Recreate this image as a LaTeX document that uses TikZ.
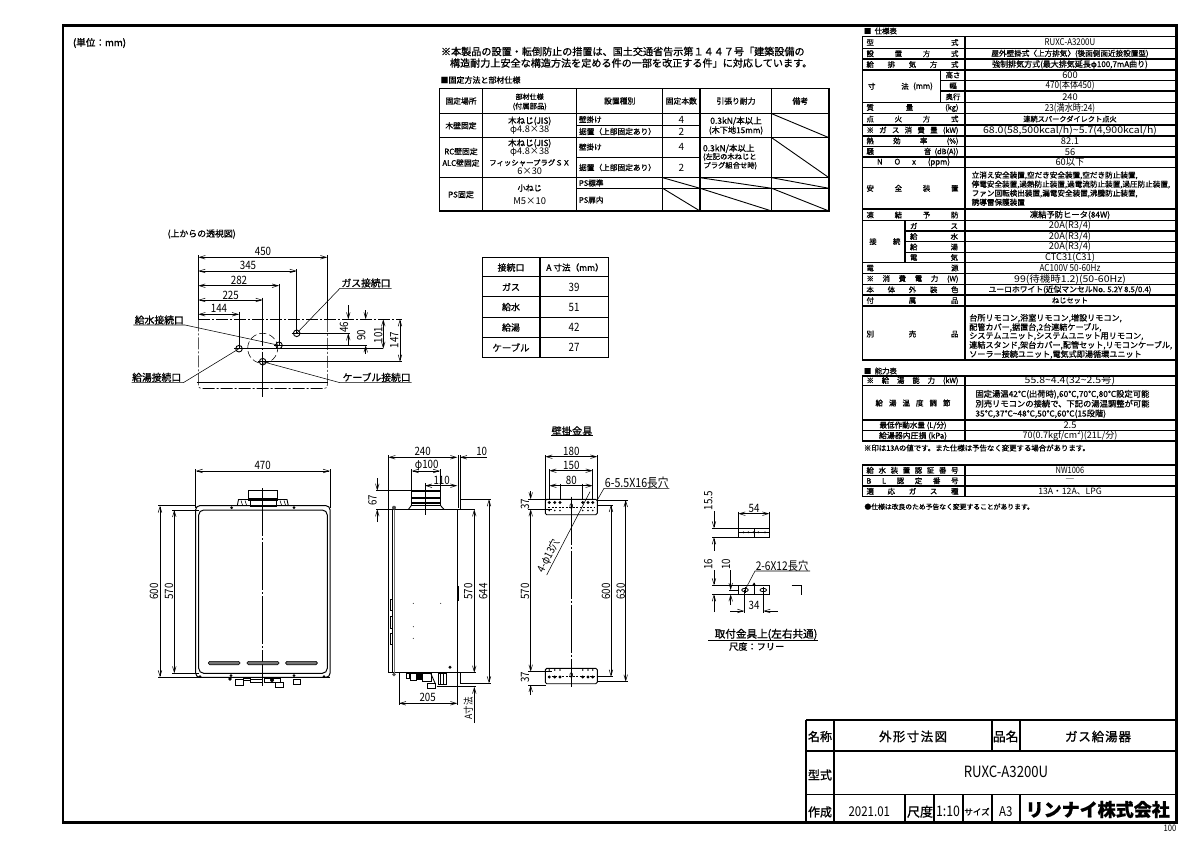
\documentclass[tikz,border=0pt]{standalone}
\usepackage{fontspec}
\usepackage{graphicx}
\usetikzlibrary{arrows.meta,calc}
\setmainfont[FakeBold=1.0]{Noto Sans CJK JP}
\newfontfamily\nar[FakeStretch=0.85]{Noto Sans CJK JP}
\newfontfamily\wid[FakeStretch=1.13]{Noto Sans CJK JP}
\newfontfamily\plain{Noto Sans CJK JP}
\newcommand{\fs}[1]{\fontsize{#1}{#1}\selectfont}
\newcounter{tn}
\newcommand{\lab}[4][]{\stepcounter{tn}\node[txt,#1] (t\arabic{tn}) at (#2,#3) {#4};}
% spec table helpers
\newcommand{\Jl}[2]{\lab{912.5}{#1}{\fs{7.4}\hbox to 92pt{#2}}}
\newcommand{\Jm}[2]{\lab{934}{#1}{\fs{7.4}\hbox to 48pt{#2}}}
\newcommand{\Va}[2]{\lab{1070}{#1}{\plain\fs{9.3}#2}}
\newcommand{\Vn}[2]{\lab{1070}{#1}{\nar\fs{9.6}#2}}
\newcommand{\Vw}[2]{\lab{1070}{#1}{\wid\fs{9.3}#2}}
\newcommand{\Vs}[3]{\lab{1070}{#1}{\plain\fs{#2}#3}}
\newcommand{\Vj}[3]{\lab{1070}{#1}{\fs{#2}#3}}
\newcommand{\Dt}[3]{\lab{#1}{#2}{\nar\fs{11.5}#3}}
\newcommand{\Dr}[3]{\lab[rotate=90]{#1}{#2}{\nar\fs{11.5}#3}}
\newcommand{\Tt}[3]{\lab{#1}{#2}{\fs{7.8}#3}}
\tikzset{
  txt/.style={inner sep=0pt,outer sep=0pt,anchor=center,text=black},
  frame/.style={line width=2.4pt,draw=black},
  tab/.style={line width=1.3pt,draw=black},
  tabthin/.style={line width=0.9pt,draw=black},
  dim/.style={line width=0.55pt,draw=black,{Straight Barb[length=6pt,width=3.6pt]}-{Straight Barb[length=6pt,width=3.6pt]}},
  dimin/.style={line width=0.55pt,draw=black,-{Straight Barb[length=6pt,width=3.6pt]}},
  ext/.style={line width=0.55pt,draw=black},
  body/.style={line width=0.9pt,draw=black},
  center/.style={line width=0.55pt,draw=black,dash pattern=on 48pt off 2pt on 2pt off 2pt},
  phantomline/.style={line width=0.6pt,draw=black,dash pattern=on 12pt off 2pt on 2pt off 2pt},
}
\begin{document}
\begin{tikzpicture}[x=1pt,y=-1pt]
\useasboundingbox (0,0) rectangle (1200,849);
\fill[white] (0,0) rectangle (1200,849);
% outer frame
\draw[frame] (63,25.5) rectangle (1176.5,822.3);
\lab{99.5}{43}{\fs{9.6}(単位：mm)}
\lab{1170}{828}{\nar\fs{9}100}

% ---------- notes and fixing table
\lab[anchor=west]{441}{51.5}{\fs{10.1}※本製品の設置・転倒防止の措置は、国土交通省告示第１４４７号「建築設備の}
\lab[anchor=west]{450}{63}{\fs{10.1}構造耐力上安全な構造方法を定める件の一部を改正する件」に対応しています。}
\lab[anchor=west]{440.5}{80}{\fs{8}■固定方法と部材仕様}
\draw[tab] (439.3,88.3) rectangle (829,211);
\foreach \x in {482.7,576.7,662.7,700,771.7} \draw[tab] (\x,88.3) -- (\x,211);
\foreach \y in {113.7,137.7,177.7} \draw[tab] (439.3,\y) -- (829,\y);
\draw[tabthin] (576.7,125) -- (700,125);
\draw[tabthin] (576.7,157) -- (700,157);
\draw[tabthin] (576.7,188.3) -- (829,188.3);
\foreach \a/\b/\c/\d in {771.7/113.7/829/137.7,771.7/137.7/829/177.7,662.7/177.7/700/188.3,700/177.7/771.7/188.3,771.7/177.7/829/188.3,662.7/188.3/700/211,700/188.3/771.7/211,771.7/188.3/829/211}
  \draw[tabthin] (\a,\b) -- (\c,\d);
\Tt{461}{101}{固定場所}
\lab{529.7}{96.7}{\fs{7}部材仕様}
\lab{529.7}{106.5}{\fs{7.3}(付属部品)}
\Tt{619.7}{101}{設置種別}
\Tt{681.3}{101}{固定本数}
\Tt{736}{101}{引張り耐力}
\Tt{800.3}{101}{備考}
\Tt{461}{125.7}{木壁固定}
\lab{529.7}{121}{\fs{8.5}木ねじ(JIS)}
\lab{529.7}{130.5}{\plain\fs{9.2}φ4.8×38}
\lab[anchor=west]{579}{119.5}{\fs{7.6}壁掛け}
\lab[anchor=west]{579}{131.5}{\fs{7.7}据置（上部固定あり）}
\lab{681.3}{119.5}{\plain\fs{10}4}
\lab{681.3}{131.5}{\plain\fs{10}2}
\lab{736}{121}{\fs{8.5}0.3kN/本以上}
\lab{736}{130.5}{\fs{8.2}(木下地15mm)}
\lab{461}{151.5}{\fs{7.8}RC壁固定}
\lab{461}{163}{\fs{7.8}ALC壁固定}
\lab{529.7}{143.3}{\fs{8.5}木ねじ(JIS)}
\lab{529.7}{152}{\plain\fs{9.2}φ4.8×38}
\lab{529.7}{162.7}{\fs{7.4}フィッシャープラグＳＸ}
\lab{529.7}{171.3}{\plain\fs{9.2}6×30}
\lab[anchor=west]{579}{147}{\fs{7.6}壁掛け}
\lab[anchor=west]{579}{167.5}{\fs{7.7}据置（上部固定あり）}
\lab{681.3}{147}{\plain\fs{10}4}
\lab{681.3}{167.5}{\plain\fs{10}2}
\lab[anchor=west]{703}{148.5}{\fs{8.5}0.3kN/本以上}
\lab[anchor=west]{703}{157}{\fs{7.3}(左記の木ねじと}
\lab[anchor=west]{703.5}{165.7}{\fs{7.3}プラグ組合せ時)}
\lab{461}{194.5}{\fs{8}PS固定}
\lab{529.7}{188}{\fs{8}小ねじ}
\lab{529.7}{201}{\plain\fs{9.4}M5×10}
\lab[anchor=west]{579}{183}{\fs{7.6}PS標準}
\lab[anchor=west]{579}{200}{\fs{7.6}PS扉内}

% ---------- A dimension table
\draw[tab] (482.7,257.7) rectangle (608.3,357.7);
\draw[tab] (540,257.7) -- (540,357.7);
\foreach \y in {276.7,296.7,317.7,337.7} \draw[tab] (482.7,\y) -- (608.3,\y);
\lab{511}{267.5}{\fs{8.9}接続口}
\lab{575}{267.5}{\fs{8.6}A 寸法（mm）}
\lab{511}{287}{\fs{9}ガス}
\lab{511}{307}{\fs{9}給水}
\lab{511}{327.5}{\fs{9}給湯}
\lab{511}{347.5}{\fs{9.4}ケーブル}
\Dt{574}{287}{39}
\Dt{574}{307}{51}
\Dt{574}{327.5}{42}
\Dt{574}{347.5}{27}

% ---------- top view
\lab{201.7}{234}{\fs{8.9}(上からの透視図)}
\coordinate (gas) at (296.7,333.3);
\coordinate (wat) at (279,345.3);
\coordinate (hot) at (239,348.7);
\coordinate (cab) at (262.7,361.7);
\draw[ext] (198.3,255) -- (198.3,320);
\draw[ext] (327.3,255) -- (327.3,320);
\draw[ext] (296.7,269) -- (296.7,333);
\draw[ext] (279,283.5) -- (279,345);
\draw[ext] (239,311.7) -- (239,348);
\draw[center] (262.7,297.5) -- (262.7,396.7);
\draw[dim] (198.3,257.3) -- (327.3,257.3);
\draw[dim] (198.3,271) -- (296.7,271);
\draw[dim] (198.3,285.7) -- (279,285.7);
\draw[dim] (198.3,300) -- (262.7,300);
\draw[dim] (198.3,314.3) -- (239,314.3);
\Dt{263}{251.5}{450}
\Dt{248}{265.5}{345}
\Dt{239}{280}{282}
\Dt{230.7}{295}{225}
\Dt{219}{308.5}{144}
\draw[phantomline] (198.3,319.3) -- (401.7,319.3);
\draw[phantomline] (198.3,319.3) -- (198.3,385) .. controls (198.3,387.5) and (199.5,388.5) .. (202,388.5) -- (324,388.5) .. controls (326,388.5) and (327.3,387.5) .. (327.3,385) -- (327.3,319.3);
\draw[line width=1.1pt] (196.7,382.7) -- (328.3,382.7);
\draw[ext,dash pattern=on 7pt off 3pt] (262.7,348.3) circle (15pt);
\foreach \p in {gas,wat,hot,cab} {
  \draw[body] (\p) circle (3.3pt);
  \draw[ext] ($(\p)+(-5,0)$) -- ($(\p)+(5,0)$);
}
\draw[ext] (gas) -- (350,333.3);
\draw[ext] (wat) -- (366.7,345.3);
\draw[ext] (hot) -- (383.3,348.7);
\draw[ext] (cab) -- (401.7,361.7);
\draw[dimin] (348.3,305) -- (348.3,319.3);
\draw[dimin] (348.3,345) -- (348.3,333.3);
\draw[dimin] (365.7,310) -- (365.7,319.3);
\draw[dimin] (365.7,354) -- (365.7,345.3);
\draw[dim] (383.3,319.3) -- (383.3,348.7);
\draw[dim] (400,319.3) -- (400,361.7);
\Dr{344}{327.3}{46}
\Dr{361.3}{335}{90}
\Dr{378.3}{335}{101}
\Dr{394.3}{340}{147}
\lab{366}{283}{\fs{9.8}ガス接続口}
\lab{159.3}{320}{\fs{9.8}給水接続口}
\lab{156.7}{377.3}{\fs{9.8}給湯接続口}
\lab{376.7}{377.3}{\fs{9.8}ケーブル接続口}
\draw[ext] (391.7,288.3) -- (340,288.3) -- (gas);
\draw[ext] (133.3,325) -- (185,325) -- (wat);
\draw[ext] (131.7,382.7) -- (183.3,382.7) -- (hot);
\draw[ext] (411.7,382.7) -- (340,382.7) -- (cab);

% ---------- front view
\draw[ext] (195.7,469) -- (195.7,508);
\draw[ext] (330,469) -- (330,508);
\draw[dim] (195.7,471) -- (330,471);
\Dt{262.7}{465.5}{470}
\draw[body] (248.3,490.7) rectangle (277.3,500);
\draw[body] (248.3,498) -- (277.3,498);
\draw[body] (250,500) rectangle (276,506);
\draw[body] (237.3,505.7) -- (238.5,499.5) -- (287,499.5) -- (288.3,505.7);
\foreach \x in {241,245,280,284} \draw[ext] (\x,500.5) -- (\x+1.5,505);
\draw[line width=1pt,rounded corners=4pt] (195.7,505.7) rectangle (330,677.3);
\draw[line width=1pt,rounded corners=5pt] (198.7,510) rectangle (327.3,673.3);
\foreach \x/\y in {231.7/507.7,294/507.7,231/675.5,294/675.5} \fill (\x,\y) circle (1.5pt);
\draw[center] (262.7,488) -- (262.7,685.7);
\foreach \a/\b in {208.3/240,247/279,285.7/317.3}
  \draw[line width=0.6pt,fill=black!55,rounded corners=1.4pt] (\a,661.3) rectangle (\b,664.7);
\draw[ext] (158,505.7) -- (196,505.7);
\draw[ext] (158,677.3) -- (330,677.3);
\draw[ext] (172,510) -- (199,510);
\draw[ext] (172,673.3) -- (199,673.3);
\draw[dim] (160,505.7) -- (160,677.3);
\draw[dim] (174.3,510) -- (174.3,673.3);
\Dr{154}{591.7}{600}
\Dr{169}{591.7}{570}
% front fittings
\draw[body] (235.7,679) rectangle (243.7,685);
\draw[body] (243,678) rectangle (250,680);
\draw[body] (250,679) rectangle (262,682);
\draw[body] (264,678.5) rectangle (280,682);
\draw[body] (275,682) rectangle (283,687.5);
\draw[body] (293.5,679) rectangle (300.5,684.5);
\fill (230,679) circle (1.8pt);
\fill (272,680) circle (2pt);
\fill (200,676.5) circle (1.5pt);
\fill (324,676.5) circle (1.5pt);

% ---------- side view
\draw[ext] (388.3,455) -- (388.3,509.3);
\draw[line width=1.2pt] (458.5,455) -- (458.5,508);
\draw[ext] (460,455) -- (460,500);
\draw[dim] (388.3,457.3) -- (457.3,457.3);
\draw[dimin] (487,457.3) -- (460,457.3);
\Dt{422.7}{451.5}{240}
\Dt{481.7}{451.5}{10}
\draw[ext] (411.7,469) -- (411.7,492);
\draw[ext] (440,469) -- (440,492);
\draw[dim] (411.7,471) -- (440,471);
\Dt{426.7}{465.5}{φ100}
\draw[dim] (425,485.7) -- (457.3,485.7);
\draw[ext] (425,483) -- (425,515);
\Dt{441.7}{480.5}{110}
\draw[body] (411.7,490.7) rectangle (440,505);
\draw[line width=1.1pt] (411.7,491.5) -- (440,491.5);
\draw[line width=1.1pt] (411.7,498) -- (440,498);
\draw[line width=1.1pt] (411.7,503) -- (440,503);
\draw[body] (411.7,505) -- (408.5,509.3);
\draw[body] (440,505) -- (444,509.3);
\draw[ext] (376,490.7) -- (411.7,490.7);
\draw[ext] (376,509.3) -- (475,509.3);
\draw[dimin] (377.3,478) -- (377.3,490.7);
\draw[dimin] (377.3,522) -- (377.3,509.3);
\Dr{372.5}{500}{67}
\draw[body] (388.3,509.3) rectangle (457.3,672.7);
\draw[line width=1.6pt,draw=black!55] (394.5,510) -- (394.5,672.7);
\draw[ext] (392.5,510) -- (392.5,672.7);
\fill[black!70] (394,507.7) circle (2pt);
\fill[black!70] (394,674.5) circle (1.8pt);
\foreach \x/\y in {413.3/603.3,440.7/603.3,413.3/626.7,413.3/638.3} \fill (\x,\y) circle (.5pt);
\fill (450,667.3) circle (1.6pt);
\draw[ext] (457.3,586.7) rectangle (458.7,600);
\foreach \a/\b in {599.3/610.7,616.7/628.3,633.3/644.3} \draw[ext] (390,\a) rectangle (392.5,\b);
\draw[ext] (460,499.3) -- (490.5,499.3);
\draw[ext] (460,499.3) -- (460,510);
\draw[ext] (460,672.7) -- (460,683.3);
\draw[ext] (457.3,672.7) -- (475.5,672.7);
\draw[ext] (460,683.3) -- (490.5,683.3);
\draw[dim] (474.3,509.3) -- (474.3,672.7);
\draw[dim] (489,499.3) -- (489,683.3);
\Dr{468.3}{591.7}{570}
\Dr{483.3}{591.7}{644}
\draw[ext] (399,673) -- (399,705);
\draw[ext] (457.3,673) -- (457.3,705);
\draw[dim] (399,703.3) -- (457.3,703.3);
\Dt{427.7}{697.3}{205}
\draw[ext] (436.7,686.7) -- (476,686.7);
\draw[dimin] (474.3,723) -- (474.3,686.7);
\lab[rotate=90]{468.3}{708.3}{\nar\fs{10}A寸法}
% side fittings
\draw[body] (406,673) rectangle (409,678);
\draw[body] (410,673) rectangle (416,680);
\fill (417,673) rectangle (422,680);
\draw[body] (422,673) rectangle (431,681);
\draw[body] (427,683) rectangle (435,688);
\draw[body] (431,674) -- (435,683);
\draw[body] (438,673) rectangle (446,684);
\draw[body] (440,673) -- (440,684);
\draw[body] (443,673) -- (443,684);

% ---------- wall bracket
\lab{572}{431}{\fs{10.2}壁掛金具}
\draw[ext] (551,435.7) -- (592.7,435.7);
\foreach \x in {545.3,597.3} \draw[ext] (\x,455) -- (\x,500);
\foreach \x in {549.3,592.7} \draw[ext] (\x,469) -- (\x,500);
\foreach \x in {560,582.7} \draw[ext] (\x,483.5) -- (\x,500);
\draw[dim] (545.3,456.7) -- (597.3,456.7);
\draw[dim] (549.3,470.7) -- (592.7,470.7);
\draw[dim] (549.3,485.7) -- (592.7,485.7);
\Dt{571.3}{451.5}{180}
\Dt{571.3}{465.5}{150}
\Dt{571.3}{480}{80}
\draw[center] (571.3,496.7) -- (571.3,686.7);
\foreach \yy/\ya/\yb in {499.3/502.5/510.5,668.3/677/670} {
  \draw[body,rounded corners=1.5pt] (545.3,\yy) rectangle (597.3,\yy+15.4);
  \foreach \x in {549.3,554.7,560,582.7,588,592.7} {
    \fill (\x,\ya) circle (1.6pt);
    \fill (\x,\yb) circle (.9pt);
  }
  \draw[ext] (571.3,\yy+6.7) circle (1.4pt and 2.4pt);
  \draw[ext,dash pattern=on 2pt off 1.5pt] (548,\yy+8) -- (595,\yy+8);
}
\draw[ext] (528,499.3) -- (546,499.3);
\draw[ext] (528,509.3) -- (552,509.3);
\draw[ext] (528,671.7) -- (552,671.7);
\draw[ext] (528,685) -- (546,685);
\draw[dimin] (530.7,491) -- (530.7,499.3);
\draw[dim] (530.7,509.3) -- (530.7,671.7);
\draw[dimin] (530.7,695) -- (530.7,685);
\Dr{525}{504}{37}
\Dr{525}{677.3}{37}
\Dr{525}{591.7}{570}
\draw[ext] (597.3,505) -- (613,505);
\draw[ext] (597.3,676.7) -- (613,676.7);
\draw[ext] (597.3,500) -- (628,500);
\draw[ext] (597.3,681.7) -- (628,681.7);
\draw[dim] (611,505) -- (611,676.7);
\draw[dim] (625.7,500) -- (625.7,681.7);
\Dr{606}{591.7}{600}
\Dr{620.7}{591.7}{630}
\lab{636.7}{482.5}{\nar\fs{12.5}6-5.5X16長穴}
\draw[ext] (669.3,488.3) -- (604,488.3) -- (597.3,500);
\draw[ext] (546.7,575) -- (590,491.7);
\lab[rotate=62.5]{548.5}{556}{\nar\fs{11}4-φ13穴}

% ---------- mounting piece
\draw[ext] (712.3,528.3) -- (739,528.3);
\draw[ext] (712.3,537.3) -- (739,537.3);
\draw[dimin] (714,511) -- (714,528.3);
\draw[dimin] (714,551) -- (714,537.3);
\Dr{708.3}{500.7}{15.5}
\draw[ext] (738.3,511.5) -- (738.3,529);
\draw[ext] (769.3,511.5) -- (769.3,529);
\draw[dim] (738.3,513.7) -- (769.3,513.7);
\Dt{754}{508}{54}
\draw[body] (738.3,528.3) rectangle (769.3,537.3);
\draw[ext] (754,528.3) -- (754,537.3);
\foreach \x in {743.5,748.3,753.3,758.3,765} \fill (\x,532.3) circle (1pt);
\draw[ext] (738.3,532.3) -- (769.3,532.3);
\draw[ext] (712.3,585.3) -- (739,585.3);
\draw[ext] (712.3,594.3) -- (739,594.3);
\draw[ext] (729,590) -- (739,590);
\draw[dimin] (714,570) -- (714,585.3);
\draw[dimin] (714,612) -- (714,594.3);
\Dr{708.3}{564}{16}
\draw[dimin] (730.7,570) -- (730.7,590);
\draw[dimin] (730.7,605) -- (730.7,594.3);
\Dr{726}{564}{10}
\draw[body] (738.3,585.3) rectangle (769.3,594.3);
\draw[ext] (754,582.5) -- (754,594.3);
\fill (754,582.5) -- (752.3,585.3) -- (755.7,585.3) -- cycle;
\coordinate (hl) at (745,590);
\coordinate (hr) at (763.3,590);
\foreach \p in {hl,hr} {
  \draw[line width=.8pt] (\p) ellipse (3.3pt and 1.7pt);
  \draw[ext] ($(\p)+(0,-3)$) -- ($(\p)+(0,3)$);
}
\draw[ext] (744.3,590) -- (744.3,613);
\draw[ext] (763.3,590) -- (763.3,613);
\draw[dimin] (730,611) -- (744.3,611);
\draw[dimin] (777.5,611) -- (763.3,611);
\Dt{754}{605.5}{34}
\lab{782}{566}{\nar\fs{12}2-6X12長穴}
\draw[ext] (810,571) -- (755,571) -- (hl);
\draw[body] (791.7,585.3) -- (801,585.3) -- (801,595);
\lab{766}{634.3}{\fs{10.6}取付金具上(左右共通)}
\draw[ext] (708.3,640) -- (818.3,640);
\lab{756.7}{646.5}{\fs{9.2}尺度：フリー}

% ---------- spec table
\lab[anchor=west]{864}{31}{\fs{7.4}■\ \ 仕様表}
\draw[tab] (862.3,36.7) -- (1176,36.7);
\draw[tab] (862.3,36.7) -- (862.3,360) -- (1176,360);
\draw[tab] (965,36.7) -- (965,360);
\foreach \y in {48.3,59,70,102.7,113.3,125,136,146.7,157,167.7,209,220.7,262.7,273.3,284.3,295,306}
  \draw[tab] (862.3,\y) -- (1176,\y);
\foreach \y in {80.3,91} \draw[tab] (965,\y) -- (1176,\y);
\foreach \y in {231,241.7,252.3} \draw[tab] (905,\y) -- (1176,\y);
\draw[tab] (940.7,80.3) -- (965,80.3);
\draw[tab] (940.7,91) -- (965,91);
\draw[tab] (940.7,70) -- (940.7,102.7);
\draw[tab] (905,220.7) -- (905,262.7);
\Jl{42.5}{型\hfill 式}\Vs{42.5}{7.9}{\nar\fs{9.3}RUXC-A3200U}
\Jl{53.7}{設\hfill 置\hfill 方\hfill 式}\Vj{53.7}{7.6}{屋外壁掛式〈上方排気〉(後面側面近接設置型)}
\Jl{64.5}{給\hfill 排\hfill 気\hfill 方\hfill 式}\Vj{64.5}{8}{強制排気方式(最大排気延長φ100,7mA曲り)}
\lab{871.7}{86.3}{\fs{7.4}寸}\lab{905}{86.3}{\fs{7.4}法}\lab{923}{86.3}{\fs{7.8}(mm)}
\lab{953}{75}{\fs{7.4}高さ}\lab{953}{85.7}{\fs{7.4}幅}\lab{953}{96.8}{\fs{7.4}奥行}
\Va{75.2}{600}\Vn{85.7}{470(本体450)}\Va{96.8}{240}
\Jl{108}{質\hfill 量\hfill (kg)}\Vn{108}{23(満水時:24)}
\Jl{119}{点\hfill 火\hfill 方\hfill 式}\Vj{119}{7.2}{連続スパークダイレクト点火}
\Jl{130.5}{※\hfill ガ\hfill ス\hfill 消\hfill 費\hfill 量\hfill (kW)}\Vw{130.5}{68.0(58,500kcal/h)\char"7E 5.7(4,900kcal/h)}
\Jl{141.3}{熱\hfill 効\hfill 率\hfill (\%)}\Va{141.3}{82.1}
\Jl{151.8}{騒\hfill 音\ \ (dB(A))}\Va{151.8}{56}
\lab{913.5}{162.3}{\fs{7.8}\hbox to 73pt{N\hfill O\hfill x\hfill (ppm)}}\Va{162.3}{60以下}
\Jl{188.3}{安\hfill 全\hfill 装\hfill 置}
\lab[anchor=north west]{971.7}{171.5}{\fs{7.6}\begin{tabular}{@{}l@{}}立消え安全装置,空だき安全装置,空だき防止装置,\\[.4pt]停電安全装置,過熱防止装置,過電流防止装置,過圧防止装置,\\[.4pt]ファン回転検出装置,漏電安全装置,沸騰防止装置,\\[.4pt]誘導雷保護装置\end{tabular}}
\Jl{215}{凍\hfill 結\hfill 予\hfill 防}\Vj{215}{8.3}{凍結予防ヒータ(84W)}
\lab{873}{241.5}{\fs{7.4}接}\lab{896.7}{241.5}{\fs{7.4}続}
\Jm{226}{ガ\hfill ス}\Jm{236.5}{給\hfill 水}\Jm{247}{給\hfill 湯}\Jm{257.5}{電\hfill 気}
\Va{226}{20A(R3/4)}\Va{236.5}{20A(R3/4)}\Va{247}{20A(R3/4)}\Va{257.5}{CTC31(C31)}
\Jl{268}{電\hfill 源}\Vn{268}{AC100V 50-60Hz}
\Jl{279}{※\hfill 消\hfill 費\hfill 電\hfill 力\hfill (W)}\Vw{279}{99(待機時1.2)(50-60Hz)}
\Jl{289.7}{本\hfill 体\hfill 外\hfill 装\hfill 色}\Vj{289.7}{7.8}{ユーロホワイト(近似マンセルNo. 5.2Y 8.5/0.4)}
\Jl{300.5}{付\hfill 属\hfill 品}\Vj{300.5}{7.2}{ねじセット}
\Jl{334}{別\hfill 売\hfill 品}
\lab[anchor=north west]{969.3}{314}{\fs{8.1}\begin{tabular}{@{}l@{}}台所リモコン,浴室リモコン,増設リモコン,\\[-.1pt]配管カバー,据置台,2台連結ケーブル,\\[-.1pt]システムユニット,システムユニット用リモコン,\\[-.1pt]連結スタンド,架台カバー,配管セット,リモコンケーブル,\\[-.1pt]ソーラー接続ユニット,電気式即湯循環ユニット\end{tabular}}

% capacity table
\lab[anchor=west]{864}{371}{\fs{7.4}■\ \ 能力表}
\draw[tab] (862.3,376) -- (1176,376);
\draw[tab] (862.3,376) -- (862.3,441) -- (1176,441);
\draw[tab] (965,376) -- (965,441);
\foreach \y in {385.3,420,430.7} \draw[tab] (862.3,\y) -- (1176,\y);
\Jl{380.8}{※\hfill 給\hfill 湯\hfill 能\hfill 力\hfill (kW)}\Vw{380.8}{55.8\char"7E 4.4(32\char"7E 2.5号)}
\lab{913}{403}{\fs{7.5}\hbox to 75pt{給\hfill 湯\hfill 温\hfill 度\hfill 調\hfill 節}}
\lab[anchor=north west]{975.5}{390}{\fs{8.3}\begin{tabular}{@{}l@{}}固定湯温42℃(出荷時),60℃,70℃,80℃設定可能\\[.3pt]別売リモコンの接続で、下記の湯温調整が可能\\[.3pt]35℃,37℃\char"7E 48℃,50℃,60℃(15段階)\end{tabular}}
\lab{913}{425.5}{\fs{7.6}最低作動水量 (L/分)}\Va{425.5}{2.5}
\lab{913}{436}{\fs{7.9}給湯器内圧損 (kPa)}\Vs{436}{9}{70(0.7kgf/cm²)(21L/分)}
\lab[anchor=west]{864}{448}{\fs{7.4}※印は13Aの値です。また仕様は予告なく変更する場合があります。}

% certification table
\draw[tab] (862.3,465) -- (1176,465);
\draw[tab] (862.3,465) -- (862.3,496.7) -- (1176,496.7);
\draw[tab] (965,465) -- (965,496.7);
\foreach \y in {475.7,486} \draw[tab] (862.3,\y) -- (1176,\y);
\Jl{470.3}{給\hfill 水\hfill 装\hfill 置\hfill 認\hfill 証\hfill 番\hfill 号}\lab{1070}{470.3}{\nar\fs{8.8}NW1006}
\Jl{480.8}{B\hfill L\hfill 認\hfill 定\hfill 番\hfill 号}\Va{480.8}{―}
\Jl{491.3}{適\hfill 応\hfill ガ\hfill ス\hfill 種}\Vs{491.3}{8.7}{13A・12A、LPG}
\lab[anchor=west]{864.5}{506.7}{\fs{6.8}●仕様は改良のため予告なく変更することがあります。}

% ---------- title block
\draw[frame] (806,720) -- (1176.5,720);
\draw[frame] (806,720) -- (806,822.3);
\draw[tab,line width=1.6pt] (806,751) -- (1176.5,751);
\draw[tab,line width=1.6pt] (806,794.3) -- (1176.5,794.3);
\draw[tab,line width=1.6pt] (834,720) -- (834,822.3);
\foreach \x in {991.7,1020} {
  \draw[tab,line width=1.6pt] (\x,720) -- (\x,751);
  \draw[tab,line width=1.6pt] (\x,794.3) -- (\x,822.3);
}
\foreach \x in {905,934,962.7} \draw[tab,line width=1.6pt] (\x,794.3) -- (\x,822.3);
\lab{820}{736.5}{\fs{12}名称}
\lab{913}{736.5}{\fs{12.5}\hbox to 68pt{外\hfill 形\hfill 寸\hfill 法\hfill 図}}
\lab{1005.7}{736.5}{\fs{12.8}品名}
\lab{1098}{736.5}{\fs{12.5}\hbox to 66pt{ガ\hfill ス\hfill 給\hfill 湯\hfill 器}}
\lab{820}{775}{\fs{12}型式}
\lab{1006}{772.3}{\nar\fs{15.5}RUXC-A3200U}
\lab{820}{812}{\fs{12}作成}
\lab{869.3}{811.7}{\nar\fs{13.5}2021.01}
\lab{920}{811.7}{\fs{13}尺度}
\lab{948}{811.7}{\nar\fs{14.5}1:10}
\lab{977}{811.7}{\fs{8.5}サイズ}
\lab{1005.7}{811.7}{\nar\fs{13.5}A3}
\lab{1097.7}{809.5}{\fs{18}\bfseries リンナイ株式会社}
\end{tikzpicture}
\end{document}
